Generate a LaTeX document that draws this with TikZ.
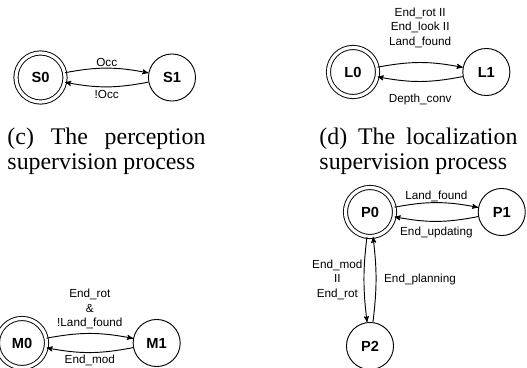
\documentclass[tikz,border=0pt]{standalone}
\usepackage{fontspec}
\setmainfont{Liberation Serif}
\setsansfont{Liberation Sans}
\usetikzlibrary{
        automata,
        arrows,
        positioning
    }
\tikzset{>=stealth',node distance=2cm}
\tikzset{every state/.style={draw,line width=0.7pt,minimum size=35.3pt,inner sep=0pt,
        font=\sffamily\bfseries\fontsize{11}{13}\selectfont}}
\tikzset{accepting by double/.style={double,double distance=2.4pt,minimum size=36.8pt}}
\tikzset{lbl/.style={font=\sffamily\fontsize{8.8}{10.9}\selectfont,align=center,inner sep=0pt}}
\tikzset{capt/.style={font=\fontsize{17.9}{19}\selectfont,align=left,anchor=north west,inner sep=0pt}}

\begin{document}
\begin{tikzpicture}[x=0.75pt,y=0.75pt,line width=0.7pt]
                    \useasboundingbox (0,0) rectangle (527,-367);

                        % perception
                        \node[state,accepting] (s0) at (40.5,-77.5) {S0};
                        \node[state] [node distance=98.6pt,right of=s0] (s1) {S1};
                    \path[->]
                            (s0)  edge[bend left=11]  node[lbl,yshift=4.5pt] {Occ} (s1)
                            (s1)  edge[bend left=11]  node[lbl,yshift=-5.5pt] {!Occ} (s0)
                            ;
                        \node[capt] (capc) at (7,-127) {\makebox[148.5pt][s]{(c) The perception}\\supervision process};

                        % localization
                        \node[state,accepting] (l0) at (353,-72) {L0};
                        \node[state] [node distance=100pt,right of=l0] (l1) {L1};
                    \path[->]
                            (l0)  edge[bend left=11]  node[lbl,yshift=26pt] {End\_rot II\\End\_look II\\Land\_found} (l1)
                            (l1)  edge[bend left=11]  node[lbl,yshift=-13.4pt] {Depth\_conv} (l0)
                            ;
                        \node[capt] (capd) at (319,-127) {\makebox[148.5pt][s]{(d) The localization}\\supervision process};

                        % planning
                        \node[state,accepting] (p0) at (370,-212) {P0};
                        \node[state] [node distance=98.8pt,right of=p0] (p1) {P1};
                        \node[state] [node distance=100.5pt,below of=p0] (p2) {P2};
                    \path[->]
                            (p0)  edge[bend left=11]  node[lbl,yshift=4.5pt] {Land\_found} (p1)
                            (p1)  edge[bend left=11]  node[lbl,yshift=-8.3pt] {End\_updating} (p0)
                            (p0)  edge[bend right=7]  node[lbl,xshift=-20pt] {End\_mod\\II\\End\_rot} (p2)
                            (p2)  edge[bend right=7]  node[lbl,xshift=33pt] {End\_planning} (p0)
                            ;

                        % motion
                        \node[state,accepting] (m0) at (22,-343) {M0};
                        \node[state] [node distance=101pt,right of=m0] (m1) {M1};
                    \path[->]
                            (m0)  edge[bend left=11]  node[lbl,yshift=18.4pt] {End\_rot\\\&\\!Land\_found} (m1)
                            (m1)  edge[bend left=11]  node[lbl,yshift=-6pt] {End\_mod} (m0)
                            ;
            \end{tikzpicture}
\end{document}
